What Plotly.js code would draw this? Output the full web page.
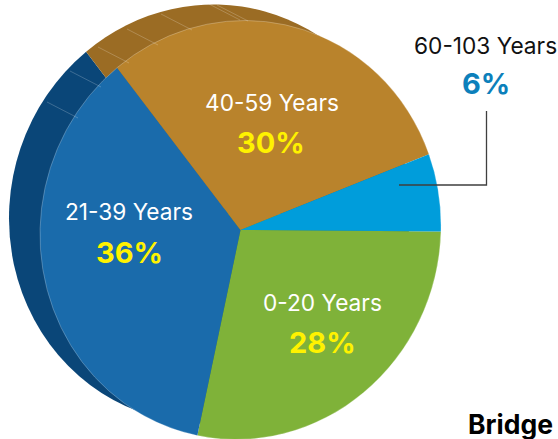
<!DOCTYPE html>
<html>
<head>
<meta charset="utf-8">
<script src="https://cdn.plot.ly/plotly-3.0.1.min.js"></script>
<style>html,body{margin:0;padding:0;background:#fff;overflow:hidden}</style>
</head>
<body>
<div id="chart" style="width:558px;height:439px"></div>
<script>
// Age distribution of the bridge inventory
const ageBands = ['0-20 Years', '21-39 Years', '40-59 Years', '60-103 Years'];
const shares = [28, 36, 30, 6];
const faceColors = ['#7fb239', '#1a6bab', '#b9832c', '#009ddb'];
const depthColors = ['#5f8a2a', '#0a4678', '#9b6c24', '#0078a8'];

const W = 558, H = 439;
const px = x => x / W;
const py = y => 1 - y / H;
const discDomain = (cx, cy, r) => ({
  x: [px(cx - r), px(cx + r)],
  y: [py(cy + r), py(cy - r)]
});

const common = {
  type: 'pie', sort: false, direction: 'clockwise', rotation: 91,
  textinfo: 'none', hoverinfo: 'none', showlegend: false
};
const faceCentre = [240.5, 230], depthOffset = [-31, -16], radius = 200;

const depthDisc = Object.assign({}, common, {
  labels: ageBands, values: shares,
  marker: { colors: depthColors, line: { width: 0 } },
  domain: discDomain(faceCentre[0] + depthOffset[0], faceCentre[1] + depthOffset[1], radius)
});
const faceDisc = Object.assign({}, common, {
  labels: ageBands, values: shares,
  marker: { colors: faceColors, line: { width: 0 } },
  domain: discDomain(faceCentre[0], faceCentre[1], radius)
});
// Thin light rim around the face, a single full-circle slice
const faceRim = Object.assign({}, common, {
  labels: ['rim'], values: [shares.reduce((a, b) => a + b, 0)],
  marker: { colors: ['rgba(0,0,0,0)'], line: { color: 'rgba(255,255,255,0.35)', width: 0.7 } },
  domain: discDomain(faceCentre[0], faceCentre[1], radius)
});

// Creases across the extruded edge, running back from the face along the depth direction
const creaseStarts = [[78,118],[101,87],[129,63],[158,45],[192,30],[240,20],[248,21]];
const hair = { color: 'rgba(255,255,255,0.3)', width: 0.7 };
const shapes = creaseStarts.map(([x, y]) => ({
  type: 'line', xref: 'paper', yref: 'paper',
  x0: px(x), y0: py(y), x1: px(x + depthOffset[0]), y1: py(y + depthOffset[1]), line: hair
}));
// Leader from the smallest slice up to its label
const leader = { color: '#3f3f3f', width: 1.3 };
shapes.push({ type: 'path', xref: 'paper', yref: 'paper',
  path: `M ${px(399)} ${py(185)} L ${px(486.5)} ${py(185)} L ${px(486.5)} ${py(111)}`, line: leader });

const face = 'Inter, sans-serif';
const note = (text, x, y, size, color, bold, anchor) => ({
  text: bold ? `<b>${text}</b>` : text, xref: 'paper', yref: 'paper',
  x: px(x), y: py(y), xanchor: anchor || 'center', yanchor: 'middle', showarrow: false,
  font: { family: face, size, color }
});
const bandPos = [[322,302],[129,212],[272,102],[485,45]];
const sharePos = [[322,342],[129,252],[271,142],[486,83]];
const annotations = [];
ageBands.forEach((b, i) => {
  const last = i === 3;
  annotations.push(note(b, bandPos[i][0], bandPos[i][1], 22.7, last ? '#111111' : '#ffffff', false));
  annotations.push(note(shares[i] + '%', sharePos[i][0], sharePos[i][1], 29, last ? '#0c80bb' : '#fff200', true));
});
annotations.push(note('Bridge', 466, 424, 26.5, '#000000', true, 'left'));

const gd = document.getElementById('chart');
Plotly.newPlot(gd, [depthDisc, faceDisc, faceRim], {
  width: W, height: H, margin: { l: 0, r: 0, t: 0, b: 0 },
  paper_bgcolor: '#fff', shapes, annotations, showlegend: false
}, { staticPlot: true, displayModeBar: false }).then(() => {
  // The discs are seen in perspective: squash each along a slightly leaning axis
  const lean = 13, sx = 1, sy = 1.05;
  gd.querySelectorAll('.pielayer .trace').forEach((g, i) => {
    const cx = faceCentre[0] + (i === 0 ? depthOffset[0] : 0);
    const cy = faceCentre[1] + (i === 0 ? depthOffset[1] : 0);
    g.setAttribute('transform',
      `translate(${cx},${cy}) rotate(${lean}) scale(${sx},${sy}) rotate(${-lean}) translate(${-cx},${-cy})`);
  });
});
</script>
</body>
</html>
